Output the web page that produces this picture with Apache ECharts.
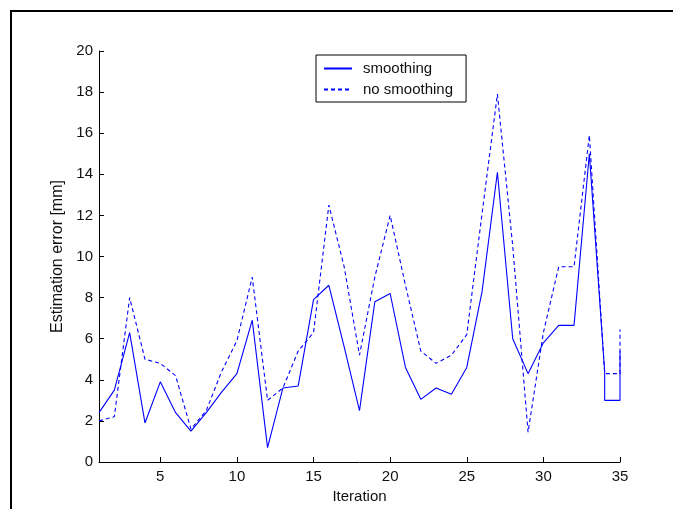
<!DOCTYPE html>
<html>
<head>
<meta charset="utf-8">
<script src="https://cdn.jsdelivr.net/npm/echarts@6/dist/echarts.min.js"></script>
<style>
  html, body { margin: 0; padding: 0; background: #fff; }
  #frame { position: absolute; left: 10px; top: 10px; width: 700px; height: 600px;
           border-top: 2px solid #000; border-left: 2px solid #000; box-sizing: border-box; }
  #chart { position: absolute; left: 0; top: 0; width: 673px; height: 509px; }
</style>
</head>
<body>
<div id="frame"></div>
<div id="chart"></div>
<script>
// x positions (iteration) and values
const iterSmooth = [1,2,3,4,5,6,7,8,9,10,11,12,13,14,15,16,17,18,19,20,21,22,23,24,25,26,27,28,29,30,31,32,33,34,34,35,35];
const smoothing = [2.4,3.5,6.3,1.9,3.9,2.4,1.5,2.4,3.4,4.3,6.9,0.7,3.6,3.7,7.9,8.6,5.6,2.5,7.8,8.2,4.6,3.05,3.6,3.3,4.6,8.3,14.1,6.0,4.3,5.8,6.65,6.65,15.0,4.4,3.0,3.0,5.4];
const iterNoSmooth = [1,2,3,4,5,6,7,8,9,10,11,12,13,14,15,16,17,18,19,20,21,22,23,24,25,26,27,28,29,30,31,32,33,34,35,35];
const noSmoothing = [2.0,2.2,8.0,5.0,4.8,4.2,1.6,2.5,4.4,5.9,9.0,3.0,3.6,5.4,6.3,12.5,9.5,5.2,9.0,12.0,8.6,5.4,4.8,5.2,6.2,12.1,17.9,10.5,1.45,6.3,9.5,9.5,15.9,4.3,4.3,6.45];
const xTicks = [5,10,15,20,25,30,35];
const seriesNames = ['smoothing', 'no smoothing'];

const pair = (xs, ys) => xs.map((x, i) => [x, ys[i]]);
const font = 'Liberation Sans, Arial, Helvetica, sans-serif';
const txt = '#111';

const chart = echarts.init(document.getElementById('chart'), null, { renderer: 'canvas' });
chart.setOption({
  animation: false,
  backgroundColor: 'transparent',
  grid: { left: 99, top: 51, right: 53, bottom: 47 },
  legend: {
    left: 316, top: 55,
    orient: 'vertical',
    data: seriesNames,
    itemWidth: 28, itemHeight: 14, itemGap: 6,
    padding: [6, 13, 5, 7],
    borderColor: '#000', borderWidth: 1,
    backgroundColor: '#fff',
    itemStyle: { opacity: 0 },
    lineStyle: { opacity: 1 },
    textStyle: { fontFamily: font, fontSize: 15, color: txt, padding: [0, 0, 0, 6] }
  },
  xAxis: {
    type: 'value', min: 1, max: 35,
    name: 'Iteration', nameLocation: 'middle', nameGap: 24,
    nameTextStyle: { fontFamily: font, fontSize: 15, color: txt },
    axisLine: { lineStyle: { color: '#000', width: 1 } },
    axisTick: { inside: true, length: 5, lineStyle: { color: '#000' }, customValues: xTicks },
    axisLabel: { fontFamily: font, fontSize: 15, color: txt, margin: 7, customValues: xTicks },
    splitLine: { show: false }
  },
  yAxis: {
    type: 'value', min: 0, max: 20, interval: 2,
    name: 'Estimation error [mm]', nameLocation: 'middle', nameGap: 32,
    nameTextStyle: { fontFamily: font, fontSize: 16, color: txt },
    axisLine: { show: true, lineStyle: { color: '#000', width: 1 } },
    axisTick: { show: true, inside: true, length: 5, lineStyle: { color: '#000' } },
    axisLabel: { fontFamily: font, fontSize: 15, color: txt, margin: 6 },
    splitLine: { show: false }
  },
  series: [
    {
      name: seriesNames[0], type: 'line', symbol: 'none',
      data: pair(iterSmooth, smoothing),
      lineStyle: { color: '#0000ff', width: 1.1, type: 'solid' },
      itemStyle: { color: '#0000ff' }
    },
    {
      name: seriesNames[1], type: 'line', symbol: 'none',
      data: pair(iterNoSmooth, noSmoothing),
      lineStyle: { color: '#0000ff', width: 1.1, type: [4, 3] },
      itemStyle: { color: '#0000ff' }
    }
  ]
});
</script>
</body>
</html>
